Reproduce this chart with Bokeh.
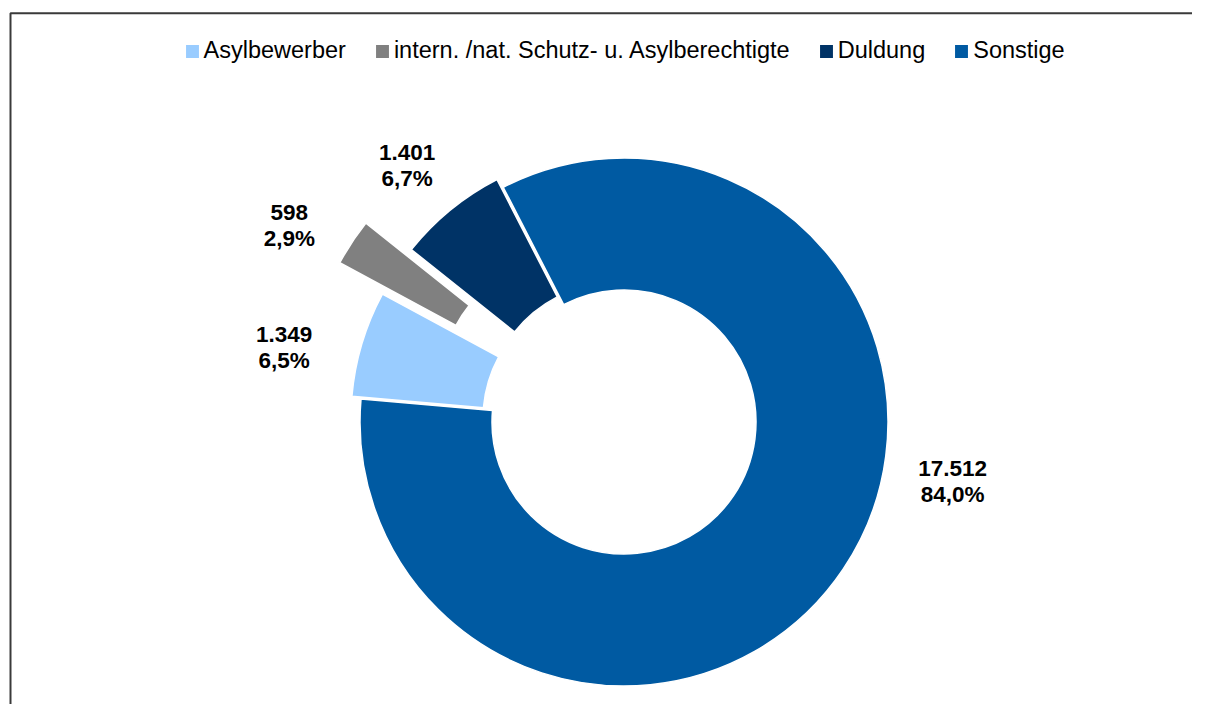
import numpy as np
from bokeh.plotting import figure
from bokeh.models import Range1d, Legend, LegendItem, ColumnDataSource
from bokeh.core.properties import value
from bokeh.embed import file_html
from bokeh.resources import INLINE

# ---------------- data ----------------
categories = ["Asylbewerber", "intern. /nat. Schutz- u. Asylberechtigte", "Duldung", "Sonstige"]
counts = [1349, 598, 1401, 17512]
colors = ["#99CCFF", "#808080", "#003366", "#005AA2"]

# ---------------- layout / style ----------------
W, H = 1192, 704
OFF = 0                         # picture offset of the canvas

def X(px):                      # picture pixel -> canvas data x
    return px - OFF

def Y(py):                      # picture pixel -> canvas data y (y up)
    return H - (py - OFF)

cx, cy = X(623.5), Y(421.5)     # donut centre
r_out, r_in = 264, 132
first_angle = 275.0             # degrees clockwise from 12 o'clock
explode = [9.5, 62, 10, 0]      # px pushed out along bisector
label_theta = [282.4, 300.4, 319.8, 100.3]
label_r = [348, 388, 336, 334]
FONT = "Liberation Sans"

total = float(sum(counts))
fracs = np.array(counts) / total
theta1 = first_angle + 360 * np.concatenate([[0], np.cumsum(fracs)[:-1]])
theta2 = theta1 + 360 * fracs
mid = (theta1 + theta2) / 2
rad = np.radians

xs = cx + np.array(explode) * np.sin(rad(mid))
ys = cy + np.array(explode) * np.cos(rad(mid))

src = ColumnDataSource(dict(
    x=xs, y=ys,
    start=rad(90 - theta2), end=rad(90 - theta1),
    color=colors, cat=categories,
))

def de_num(c):
    return f"{c:,}".replace(",", ".")

def de_pct(c):
    return f"{100 * c / total:.1f}".replace(".", ",") + "%"

labels = [de_num(c) + "\n" + de_pct(c) for c in counts]
lt = np.array(label_theta)
lsrc = ColumnDataSource(dict(
    x=cx + np.array(label_r) * np.sin(rad(lt)),
    y=cy + np.array(label_r) * np.cos(rad(lt)),
    text=labels,
))

p = figure(width=W, height=H, x_range=Range1d(0, W), y_range=Range1d(0, H),
           x_axis_location=None, y_axis_location=None,
           toolbar_location=None, output_backend="svg", min_border=0)
p.grid.visible = False
p.outline_line_color = None
p.background_fill_color = "white"
p.border_fill_color = "white"

# chart frame (top & left edges visible)
p.line(x=[X(10), X(10), W + 20], y=[-20, Y(12.8), Y(12.8)], line_color="#3a3a3a", line_width=2)

r = p.annular_wedge(x="x", y="y", inner_radius=r_in, outer_radius=r_out,
                    start_angle="start", end_angle="end",
                    fill_color="color", line_color="white", line_width=1.5,
                    source=src)

p.text(x="x", y="y", text="text", source=lsrc,
       text_align="center", text_baseline="middle",
       text_font=value(FONT), text_font_style="bold",
       text_font_size="22.5px", text_line_height=1.04, text_color="black")

legend = Legend(items=[LegendItem(label=c, renderers=[r], index=i) for i, c in enumerate(categories)],
                orientation="horizontal", location=(182.5, 640),
                glyph_width=18, glyph_height=18, label_standoff=3, spacing=27,
                padding=0, margin=0, border_line_color=None, background_fill_alpha=0,
                label_text_font=FONT, label_text_font_size="23.5px", label_text_color="black")
p.add_layout(legend, "center")

open("out.html", "w").write(file_html(p, INLINE))
